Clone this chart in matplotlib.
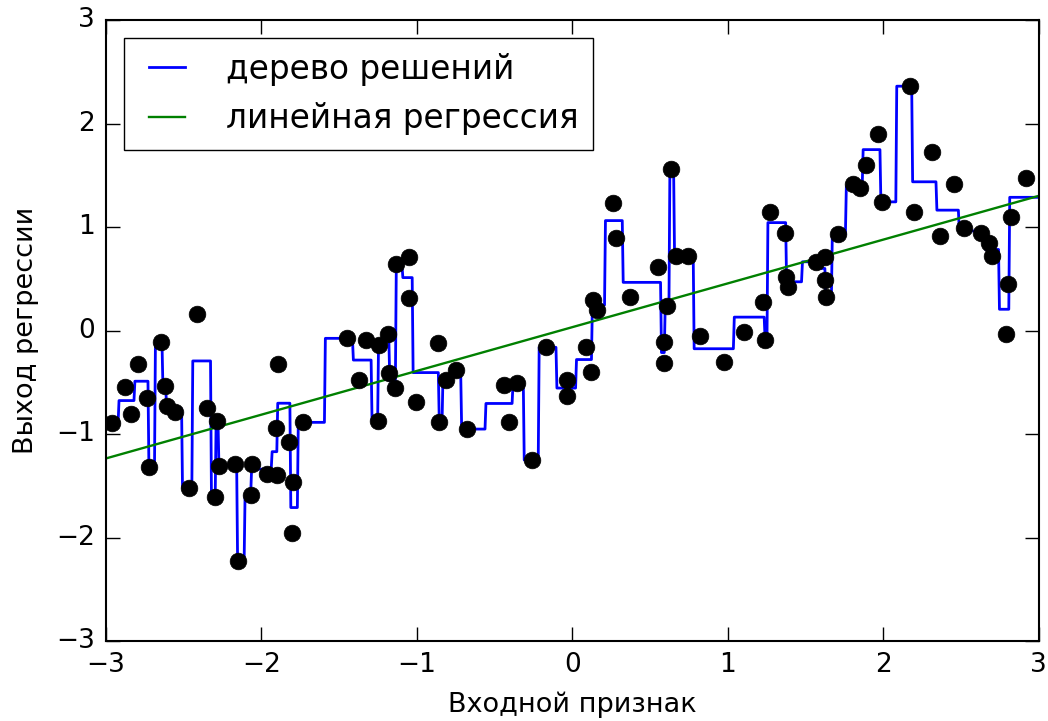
import numpy as np
import matplotlib
matplotlib.use("Agg")
import matplotlib.pyplot as plt

# точки wave-датасета
x_points = [
    -2.963, -2.878, -2.841, -2.792, -2.735, -2.720, -2.648, -2.621, -2.610, -2.556,
    -2.466, -2.417, -2.350, -2.299, -2.284, -2.273, -2.167, -2.148, -2.063, -2.068,
    -1.965, -1.902, -1.892, -1.905, -1.823, -1.795, -1.806, -1.731, -1.452, -1.371,
    -1.324, -1.253, -1.244, -1.183, -1.177, -1.141, -1.131, -1.051, -1.051, -1.008,
    -0.862, -0.856, -0.814, -0.751, -0.677, -0.440, -0.359, -0.410, -0.262, -0.172,
    -0.037, -0.033, 0.085, 0.123, 0.134, 0.156, 0.259, 0.280, 0.370, 0.552,
    0.588, 0.588, 0.606, 0.638, 0.666, 0.745, 0.820, 0.974, 1.103, 1.227,
    1.242, 1.270, 1.370, 1.376, 1.388, 1.570, 1.624, 1.624, 1.630, 1.709,
    1.806, 1.849, 1.892, 1.967, 1.995, 2.170, 2.199, 2.315, 2.368, 2.455,
    2.518, 2.631, 2.680, 2.702, 2.792, 2.803, 2.820, 2.921,
]
y_points = [
    -0.891, -0.543, -0.810, -0.324, -0.655, -1.316, -0.108, -0.536, -0.729, -0.785,
    -1.522, 0.159, -0.746, -1.606, -0.872, -1.309, -1.293, -2.224, -1.293, -1.589,
    -1.386, -1.396, -0.324, -0.945, -1.080, -1.467, -1.954, -0.887, -0.075, -0.478,
    -0.092, -0.872, -0.140, -0.034, -0.414, -0.558, 0.643, 0.713, 0.311, -0.688,
    -0.124, -0.881, -0.478, -0.382, -0.952, -0.522, -0.510, -0.887, -1.251, -0.162,
    -0.478, -0.633, -0.162, -0.398, 0.295, 0.198, 1.229, 0.897, 0.321, 0.611,
    -0.108, -0.317, 0.237, 1.558, 0.720, 0.720, -0.050, -0.301, -0.012, 0.272,
    -0.092, 1.148, 0.939, 0.520, 0.423, 0.665, 0.713, 0.488, 0.327, 0.932,
    1.415, 1.374, 1.599, 1.899, 1.244, 2.362, 1.148, 1.728, 0.913, 1.415,
    0.987, 0.939, 0.848, 0.720, -0.037, 0.449, 1.100, 1.476,
]

legend_labels = ["дерево решений", "линейная регрессия"]
x_label = "Входной признак"
y_label = "Выход регрессии"
x_range = (-3, 3)
y_range = (-3, 3)


def build_tree(x, y, idx, min_split=3):
    # простое CART-дерево регрессии (как DecisionTreeRegressor(min_samples_split=3))
    if len(idx) < min_split or np.ptp(y[idx]) == 0:
        return float(y[idx].mean())
    order = idx[np.argsort(x[idx], kind="stable")]
    xs, ys = x[order], y[order]
    n = len(order)
    csum, csq = np.cumsum(ys), np.cumsum(ys ** 2)
    best = None
    for i in range(1, n):
        if xs[i] <= xs[i - 1]:
            continue
        sl, ql = csum[i - 1], csq[i - 1]
        sr, qr = csum[-1] - sl, csq[-1] - ql
        sse = (ql - sl ** 2 / i) + (qr - sr ** 2 / (n - i))
        if best is None or sse < best[0] - 1e-12:
            best = (sse, i)
    if best is None:
        return float(ys.mean())
    i = best[1]
    thr = (xs[i - 1] + xs[i]) / 2
    return (thr, build_tree(x, y, order[:i], min_split), build_tree(x, y, order[i:], min_split))


def predict(node, v):
    while isinstance(node, tuple):
        thr, left, right = node
        node = left if v <= thr else right
    return node


X = np.array(x_points)
Y = np.array(y_points)
line = np.linspace(x_range[0], x_range[1], 1000)

tree = build_tree(X, Y, np.arange(len(X)))
tree_pred = [predict(tree, v) for v in line]
coef = np.polyfit(X, Y, 1)
lin_pred = np.polyval(coef, line)

plt.style.use("classic")
plt.rcParams["font.family"] = ["DejaVu Sans"]

fig = plt.figure(figsize=(10.48, 7.21), dpi=100, facecolor="white")
ax = fig.add_axes([0.1011, 0.111, 0.890, 0.861])
ax.plot(line, tree_pred, "b", lw=2, label=legend_labels[0])
ax.plot(line, lin_pred, "g", lw=1.7, label=legend_labels[1])
ax.plot(X, Y, "o", c="k", ms=12, mec="k")

ax.set_xlim(*x_range)
ax.set_ylim(*y_range)
for s in ax.spines.values():
    s.set_linewidth(1.5)
ax.tick_params(which="major", length=10, width=1, labelsize=19, pad=8)
ax.set_xlabel(x_label, fontsize=19.5, labelpad=10)
ax.set_ylabel(y_label, fontsize=19.5, labelpad=12)
ax.legend(loc="upper left", fontsize=23.6, handlelength=1.7, handletextpad=0.95,
          labelspacing=0.5, borderaxespad=0.55, borderpad=0.45, fancybox=False)

fig.savefig("out.png", dpi=100, facecolor="white")
plt.close(fig)
